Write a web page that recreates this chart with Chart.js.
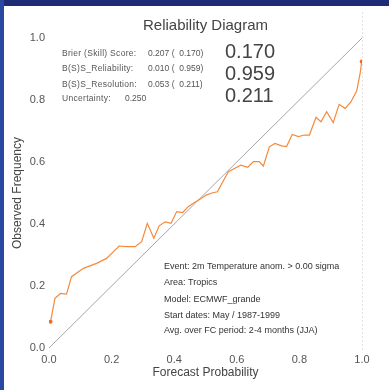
<!DOCTYPE html>
<html>
<head>
<meta charset="utf-8">
<script src="https://cdn.jsdelivr.net/npm/chart.js@4.4.1/dist/chart.umd.min.js"></script>
<style>
  html, body { margin: 0; padding: 0; background: #ffffff; }
  #wrap { width: 389px; height: 390px; position: relative; }
</style>
</head>
<body>
<div id="wrap"><canvas id="chart" width="389" height="390"></canvas></div>
<script>
// Forecast probability bins and observed frequency in each bin
const forecastProb = [0.005, 0.019, 0.037, 0.056, 0.072, 0.110, 0.152, 0.184, 0.224, 0.248,
  0.275, 0.296, 0.314, 0.335, 0.352, 0.371, 0.390, 0.408, 0.427, 0.445,
  0.461, 0.482, 0.504, 0.520, 0.538, 0.573, 0.594, 0.613, 0.635, 0.653,
  0.671, 0.685, 0.704, 0.722, 0.743, 0.759, 0.777, 0.797, 0.816, 0.832,
  0.853, 0.869, 0.887, 0.908, 0.927, 0.946, 0.964, 0.983, 0.994, 0.999];
const observedFreq = [0.085, 0.160, 0.176, 0.174, 0.230, 0.257, 0.273, 0.289, 0.329, 0.327,
  0.327, 0.343, 0.402, 0.354, 0.394, 0.407, 0.402, 0.440, 0.437, 0.456,
  0.467, 0.480, 0.494, 0.500, 0.504, 0.569, 0.580, 0.590, 0.583, 0.601,
  0.601, 0.587, 0.649, 0.660, 0.652, 0.650, 0.689, 0.682, 0.687, 0.687,
  0.744, 0.730, 0.762, 0.727, 0.786, 0.773, 0.793, 0.829, 0.886, 0.924];

// Perfect reliability reference line
const diagonalX = [0, 1];
const diagonalY = [0, 1];

const tickValues = [0, 0.2, 0.4, 0.6, 0.8, 1.0];

// Score summary
const scoreLabels = ['Brier (Skill) Score:', 'B(S)S_Reliability:', 'B(S)S_Resolution:', 'Uncertainty:'];
const scoreValues = ['0.207 (  0.170)', '0.010 (  0.959)', '0.053 (  0.211)', '0.250'];
const skillValues = ['0.170', '0.959', '0.211'];

// Experiment description
const infoLines = [
  'Event: 2m Temperature anom. > 0.00 sigma',
  'Area: Tropics',
  'Model: ECMWF_grande',
  'Start dates: May / 1987-1999',
  'Avg. over FC period: 2-4 months (JJA)'
];

const FONT = '"Liberation Sans", Arial, Helvetica, sans-serif';

const curvePoints = forecastProb.map((x, i) => ({ x: x, y: observedFreq[i] }));
const diagPoints = diagonalX.map((x, i) => ({ x: x, y: diagonalY[i] }));

const framePlugin = {
  id: 'frame',
  beforeDraw(chart) {
    const c = chart.ctx;
    c.save();
    c.fillStyle = '#ffffff';
    c.fillRect(0, 0, chart.width, chart.height);
    // blue frame along top and left edges
    c.fillStyle = '#1d2c74';
    c.fillRect(0, 0, chart.width, 6);
    c.fillStyle = '#2a48a2';
    c.fillRect(0, 0, 4, chart.height);
    // faint right border of the plot area
    const a = chart.chartArea;
    c.strokeStyle = '#e2e2e2';
    c.lineWidth = 1;
    c.setLineDash([2, 2]);
    c.beginPath();
    c.moveTo(Math.round(a.right) + 0.5, 12);
    c.lineTo(Math.round(a.right) + 0.5, a.bottom + 4);
    c.stroke();
    c.restore();
  },
  afterDraw(chart) {
    const c = chart.ctx;
    const a = chart.chartArea;
    c.save();
    c.fillStyle = '#444444';
    c.textBaseline = 'middle';
    c.textAlign = 'center';
    c.font = '15px ' + FONT;
    c.fillText('Reliability Diagram', (a.left + a.right) / 2, 26);

    c.textAlign = 'left';
    c.fillStyle = '#555555';
    c.font = '8.5px ' + FONT;
    const rowsY = [54, 69, 85, 99];
    scoreLabels.forEach((t, i) => {
      c.letterSpacing = '0.3px';
      c.fillText(t, 62, rowsY[i]);
      c.letterSpacing = '0px';
      c.fillText(scoreValues[i], i < 3 ? 148 : 125, rowsY[i]);
    });

    c.fillStyle = '#444444';
    c.font = '20px ' + FONT;
    const bigY = [52, 74, 96];
    skillValues.forEach((t, i) => c.fillText(t, 225, bigY[i]));

    c.fillStyle = '#333333';
    c.font = '9px ' + FONT;
    const infoY = [267, 283, 300, 316, 331];
    infoLines.forEach((t, i) => c.fillText(t, 164, infoY[i]));
    c.restore();
  }
};

new Chart(document.getElementById('chart'), {
  type: 'scatter',
  data: {
    datasets: [
      {
        data: diagPoints,
        showLine: true,
        borderColor: '#a6a6a6',
        borderWidth: 1,
        pointRadius: 0,
        order: 2
      },
      {
        data: curvePoints,
        showLine: true,
        borderColor: '#f58a3c',
        backgroundColor: '#f26b1d',
        borderWidth: 1.2,
        pointRadius: ctx => (ctx.dataIndex === 0 || ctx.dataIndex === forecastProb.length - 1) ? 2 : 0,
        pointBorderWidth: 0,
        order: 1
      }
    ]
  },
  options: {
    responsive: false,
    animation: false,
    events: [],
    layout: { padding: { top: 38, right: 27, left: 0, bottom: 0 } },
    plugins: {
      legend: { display: false },
      tooltip: { enabled: false },
      title: { display: false }
    },
    scales: {
      x: {
        type: 'linear',
        min: 0,
        max: 1,
        afterFit: s => { s.height = 42; },
        afterBuildTicks: s => { s.ticks = tickValues.map(v => ({ value: v })); },
        grid: { display: false, drawTicks: false },
        border: { display: false },
        ticks: {
          padding: 5,
          color: '#555555',
          font: { family: FONT, size: 11 },
          callback: v => Number(v).toFixed(1)
        },
        title: {
          display: true,
          text: 'Forecast Probability',
          color: '#444444',
          font: { family: FONT, size: 12 },
          padding: { top: 0, bottom: 10 }
        }
      },
      y: {
        type: 'linear',
        min: 0,
        max: 1,
        afterFit: s => { s.width = 49; },
        afterBuildTicks: s => { s.ticks = tickValues.map(v => ({ value: v })); },
        grid: { display: false, drawTicks: false },
        border: { display: false },
        ticks: {
          padding: 4,
          color: '#555555',
          font: { family: FONT, size: 11 },
          callback: v => Number(v).toFixed(1)
        },
        title: {
          display: true,
          text: 'Observed Frequency',
          color: '#444444',
          font: { family: FONT, size: 12 },
          padding: { top: 10, bottom: 0 }
        }
      }
    }
  },
  plugins: [framePlugin]
});
</script>
</body>
</html>
